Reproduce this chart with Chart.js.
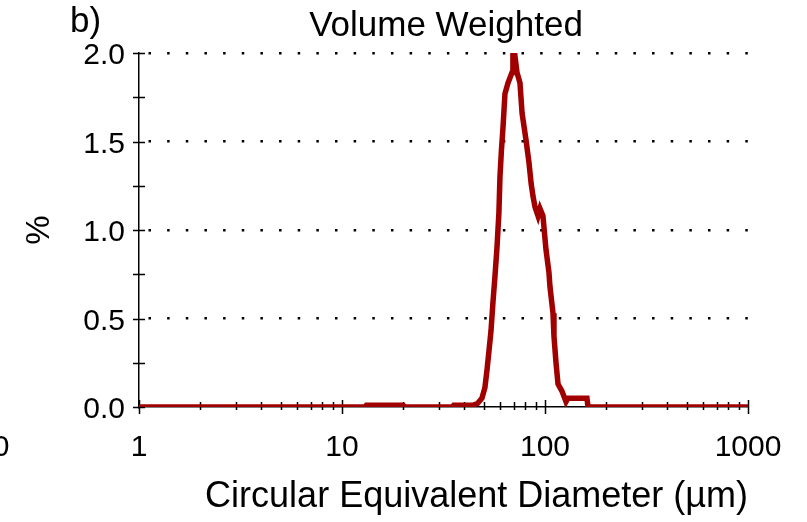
<!DOCTYPE html>
<html><head><meta charset="utf-8">
<script src="https://cdn.jsdelivr.net/npm/chart.js@4"></script>
<style>html,body{margin:0;padding:0;background:#fff;overflow:hidden}#wrap{width:807px;height:522px}</style>
</head><body><div id="wrap"><canvas id="c" width="807" height="522"></canvas></div>
<script>
// Particle size distribution (volume weighted)
const diameters = [1, 13.0, 13.2, 20.0, 20.3, 35.0, 35.5, 44.0, 46.5, 48.9, 50.6, 51.8, 53.0, 54.2, 55.4, 56.7, 58.0, 59.3, 60.0, 61.0, 62.1, 63.5, 65.7, 68.8, 69.5, 71.0, 72.8, 75.3, 77.1, 80.6, 83.4, 85.5, 87.3, 89.3, 92.4, 94.5, 97.7, 101.1, 104.6, 105.8, 109.5, 110.7, 113.3, 115.9, 121.2, 126.9, 129.8, 161.0, 162.9, 1000];
const volumePct = [0, 0, 0.01, 0.01, 0, 0, 0.01, 0.01, 0.02, 0.05, 0.11, 0.21, 0.32, 0.43, 0.59, 0.74, 0.90, 1.10, 1.30, 1.45, 1.58, 1.77, 1.83, 1.89, 1.99, 1.99, 1.89, 1.83, 1.66, 1.51, 1.38, 1.26, 1.19, 1.13, 1.08, 1.12, 1.08, 0.89, 0.76, 0.68, 0.53, 0.40, 0.25, 0.13, 0.09, 0.03, 0.05, 0.05, 0, 0];
const xTickValues = [1,2,3,4,5,6,7,8,9,10,20,30,40,50,60,70,80,90,100,200,300,400,500,600,700,800,900,1000];
const xTickLabels = ['1','10','100','1000'];
const yTickValues = [0, 0.5, 1.0, 1.5, 2.0];
const yMinorTickValues = [0, 0.25, 0.5, 0.75, 1.0, 1.25, 1.5, 1.75, 2.0];
const chartTitle = 'Volume Weighted';
const panelLabel = 'b)';
const xAxisTitle = 'Circular Equivalent Diameter (µm)';
const yAxisTitle = '%';
const cutLabel = '0';

const FONT = '"Liberation Sans", Arial, sans-serif';
const points = diameters.map((d, i) => ({x: d, y: volumePct[i]}));

const tickMarks = {
  id: 'tickMarks',
  beforeDatasetsDraw(chart) {
    const {ctx, scales: {x, y}, chartArea: a} = chart;
    ctx.save();
    ctx.strokeStyle = '#000';
    ctx.lineWidth = 1.5;
    ctx.beginPath();
    xTickValues.forEach(v => {
      const px = Math.round(x.getPixelForValue(v)) + 0.5;
      const major = xTickLabels.includes(String(v));
      ctx.moveTo(px, a.bottom - (major ? 7 : 5));
      ctx.lineTo(px, a.bottom + (major ? 7 : 3));
    });
    yMinorTickValues.forEach(v => {
      const py = Math.round(y.getPixelForValue(v)) + 0.5;
      ctx.moveTo(a.left - 6, py);
      ctx.lineTo(a.left + 6, py);
    });
    ctx.stroke();
    ctx.restore();
  }
};

const texts = {
  id: 'texts',
  afterDraw(chart) {
    const {ctx} = chart;
    ctx.save();
    ctx.fillStyle = '#000';
    ctx.textBaseline = 'alphabetic';
    ctx.font = '35px ' + FONT;
    ctx.textAlign = 'center';
    ctx.fillText(chartTitle, 446, 36);
    ctx.textAlign = 'left';
    ctx.fillText(panelLabel, 70, 32);
    ctx.font = '30px ' + FONT;
    ctx.textAlign = 'right';
    ctx.textBaseline = 'middle';
    ctx.fillText(cutLabel, 9.5, 448);
    ctx.restore();
  }
};

new Chart(document.getElementById('c'), {
  type: 'line',
  data: {
    datasets: [{
      data: points,
      borderColor: '#a00000',
      borderWidth: 5.5,
      pointRadius: 0,
      tension: 0,
      fill: false
    }]
  },
  options: {
    responsive: false,
    animation: false,
    devicePixelRatio: 1,
    layout: {padding: {top: 53, right: 59, left: 0, bottom: 0}},
    plugins: {legend: {display: false}, tooltip: {enabled: false}, title: {display: false}},
    scales: {
      x: {
        type: 'logarithmic',
        min: 1, max: 1000,
        afterBuildTicks(s) { s.ticks = xTickValues.map(v => ({value: v, major: xTickLabels.includes(String(v))})); },
        afterFit(s) { s.height = 115; },
        ticks: {
          autoSkip: false, maxRotation: 0, minRotation: 0, padding: 23,
          color: '#000', font: {family: FONT, size: 30},
          callback: (v) => xTickLabels.includes(String(v)) ? String(v) : ''
        },
        grid: {display: false, drawTicks: false},
        border: {display: true, color: '#000', width: 1.5},
        title: {display: true, text: xAxisTitle, align: 'end', color: '#000', font: {family: FONT, size: 36}, padding: {top: 0, bottom: 3}}
      },
      y: {
        type: 'linear',
        min: 0, max: 2,
        afterBuildTicks(s) { s.ticks = yTickValues.map(v => ({value: v})); },
        afterFit(s) { s.width = 139; },
        ticks: {
          padding: 14, labelOffset: 3,
          color: '#000', font: {family: FONT, size: 30},
          callback: (v) => Number(v).toFixed(1)
        },
        grid: {
          drawTicks: false, lineWidth: 2.5,
          color: (c) => (c.tick && c.tick.value === 0) ? 'rgba(0,0,0,0)' : '#000'
        },
        border: {display: true, color: '#000', width: 1.5, dash: [2.5, 16.15], dashOffset: 9.65},
        title: {display: true, text: yAxisTitle, color: '#000', font: {family: FONT, size: 33}, padding: {top: 20, bottom: 0}}
      }
    }
  },
  plugins: [tickMarks, texts]
});
</script>
</body></html>
